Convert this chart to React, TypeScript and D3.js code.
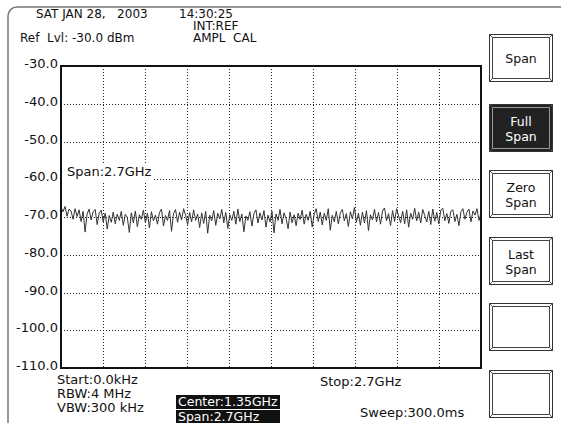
import React from "react";
import * as d3 from "d3";

const yTicks = [-30, -40, -50, -60, -70, -80, -90, -100, -110];
const xDivisions = [0, 1, 2, 3, 4, 5, 6, 7, 8, 9, 10];
const traceDbm = [
  -67.4,-68.6,-67.2,-69.8,-67.9,-68.4,-70.6,-67.8,-69.9,-68.1,
  -71.2,-68.5,-74.0,-69.2,-67.9,-70.8,-68.6,-68.0,-72.0,-69.0,
  -68.2,-71.3,-69.0,-73.2,-69.6,-71.4,-68.7,-71.8,-69.2,-70.9,
  -68.5,-72.2,-69.3,-70.1,-74.1,-68.9,-71.6,-68.4,-72.6,-69.4,
  -70.6,-68.2,-71.5,-69.0,-72.9,-68.6,-71.0,-69.5,-71.9,-68.8,
  -67.9,-72.4,-69.6,-70.9,-68.3,-73.8,-69.1,-68.0,-71.4,-68.7,
  -70.8,-67.8,-69.5,-72.0,-68.8,-71.3,-68.1,-70.9,-69.2,-72.8,
  -68.9,-71.7,-68.5,-74.3,-69.5,-71.0,-68.3,-72.2,-69.0,-70.5,
  -68.0,-71.5,-68.8,-73.0,-69.4,-70.9,-68.5,-71.9,-67.9,-71.2,
  -69.2,-73.9,-69.7,-70.9,-68.6,-72.4,-69.1,-68.1,-71.6,-68.9,
  -70.8,-68.3,-72.7,-69.5,-71.3,-68.5,-74.2,-69.2,-70.9,-68.0,
  -71.8,-68.9,-70.4,-73.1,-68.7,-71.5,-69.4,-72.3,-69.0,-70.7,
  -68.2,-71.9,-69.3,-70.9,-68.5,-72.6,-69.2,-67.8,-71.2,-68.7,
  -72.1,-69.0,-70.9,-67.8,-73.5,-69.5,-71.3,-68.5,-71.8,-68.9,
  -68.0,-71.0,-69.1,-72.5,-68.6,-70.5,-67.5,-71.4,-69.0,-72.2,
  -68.7,-71.6,-68.3,-73.6,-69.4,-70.8,-68.0,-71.3,-68.8,-71.9,
  -68.4,-67.6,-71.0,-69.1,-72.3,-68.3,-71.2,-67.8,-69.7,-71.5,
  -68.5,-71.8,-68.1,-72.7,-69.0,-70.6,-67.7,-71.0,-68.7,-71.6,
  -68.0,-69.6,-71.3,-68.5,-72.0,-67.9,-71.1,-68.8,-71.8,-68.2,
  -67.7,-71.0,-69.1,-71.7,-68.5,-68.1,-71.2,-69.3,-72.3,-68.6,
  -67.8,-70.6,-68.8,-67.9,-71.3,-68.4,-69.5,-67.8,-70.9,-69.0,
];
const buttonLabels = [["Span"], ["Full", "Span"], ["Zero", "Span"], ["Last", "Span"], [], []];
const activeButton = 1;

const FONT = "'DejaVu Sans', Verdana, sans-serif";

export default function App() {
  const W = 561, H = 423;
  const L = 61, R = 481, T = 66, B = 368;
  const x = d3.scaleLinear().domain([0, traceDbm.length - 1]).range([L, R]);
  const xd = d3.scaleLinear().domain([0, 10]).range([L, R]);
  const y = d3.scaleLinear().domain([-110, -30]).range([B, T]);
  const line = d3.line<number>().x((_, i) => x(i)).y((d) => y(d));

  const btnTops = [34, 104, 170, 237, 303, 370];
  const bx = 489, bw = 63, bh = 47;

  const txt = (s: string, tx: number, ty: number, size: number, extra: any = {}) => (
    <text x={tx} y={ty} fontSize={size} fontFamily={FONT} fill="#111" style={{ whiteSpace: "pre" }} {...extra}>{s}</text>
  );

  return (
    <svg width={W} height={H} style={{ position: "absolute", left: 0, top: 0, background: "#fff" }}>
      <rect x={0} y={0} width={W} height={H} fill="#fff" />
      <rect x={8} y={7} width={600} height={500} rx={9} fill="none" stroke="#777" strokeWidth={1.5} />

      {txt("SAT JAN 28,   2003", 36, 18, 12)}
      {txt("14:30:25", 179, 18, 12)}
      {txt("INT:REF", 193, 30, 12)}
      {txt("Ref  Lvl: -30.0 dBm", 20, 42, 12)}
      {txt("AMPL  CAL", 193, 42, 12)}

      {yTicks.filter((v) => v !== -30 && v !== -110).map((v) => (
        <line key={"h" + v} x1={L} x2={R} y1={Math.round(y(v)) + 0.5} y2={Math.round(y(v)) + 0.5} stroke="#222" strokeWidth={1} strokeDasharray="1,2" />
      ))}
      {xDivisions.filter((d) => d !== 0 && d !== 10).map((d) => (
        <line key={"v" + d} x1={Math.round(xd(d)) + 0.5} x2={Math.round(xd(d)) + 0.5} y1={T} y2={B} stroke="#222" strokeWidth={1} strokeDasharray="1,2" />
      ))}

      {yTicks.map((v) => (
        <text key={"yl" + v} x={58} y={y(v) + 2} fontSize={13} fontFamily={FONT} textAnchor="end" fill="#111">{v.toFixed(1)}</text>
      ))}

      <rect x={64} y={164} width={90} height={18} fill="#fff" />
      {txt("Span:2.7GHz", 67, 176, 13)}

      <path d={line(traceDbm) || ""} fill="none" stroke="#333" strokeWidth={1} strokeLinejoin="round" />

      <rect x={L} y={T} width={R - L} height={B - T} fill="none" stroke="#111" strokeWidth={2} />

      {txt("Start:0.0kHz", 57, 384, 13)}
      {txt("RBW:4 MHz", 57, 398, 13)}
      {txt("VBW:300 kHz", 57, 412, 13)}
      <rect x={176} y={395} width={104} height={14} fill="#111" />
      {txt("Center:1.35GHz", 178, 406, 12.5, { fill: "#fff" })}
      <rect x={176} y={410} width={104} height={13} fill="#111" />
      {txt("Span:2.7GHz", 178, 421, 12.5, { fill: "#fff" })}
      {txt("Stop:2.7GHz", 320, 386, 13)}
      {txt("Sweep:300.0ms", 360, 417, 13)}

      {buttonLabels.map((lbls, i) => {
        const top = btnTops[i];
        const active = i === activeButton;
        return (
          <g key={"b" + i}>
            <rect x={bx + 0.5} y={top + 0.5} width={bw} height={bh} fill={active ? "#222" : "#fff"} stroke="#333" strokeWidth={1} />
            <rect x={bx + 3.5} y={top + 3.5} width={bw - 6} height={bh - 6} fill="none" stroke={active ? "#999" : "#444"} strokeWidth={1} />
            <line x1={bx + 0.5} y1={top + 0.5} x2={bx + 3.5} y2={top + 3.5} stroke="#555" />
            <line x1={bx + bw + 0.5} y1={top + 0.5} x2={bx + bw - 2.5} y2={top + 3.5} stroke="#555" />
            <line x1={bx + 0.5} y1={top + bh + 0.5} x2={bx + 3.5} y2={top + bh - 2.5} stroke="#555" />
            <line x1={bx + bw + 0.5} y1={top + bh + 0.5} x2={bx + bw - 2.5} y2={top + bh - 2.5} stroke="#555" />
            {lbls.map((s, j) => (
              <text key={j} x={bx + bw / 2 + 0.5} y={top + bh / 2 + 5 + (lbls.length === 2 ? (j === 0 ? -7 : 8) : 0)} fontSize={12.5} fontFamily={FONT} textAnchor="middle" fill={active ? "#fff" : "#111"}>{s}</text>
            ))}
          </g>
        );
      })}
    </svg>
  );
}
